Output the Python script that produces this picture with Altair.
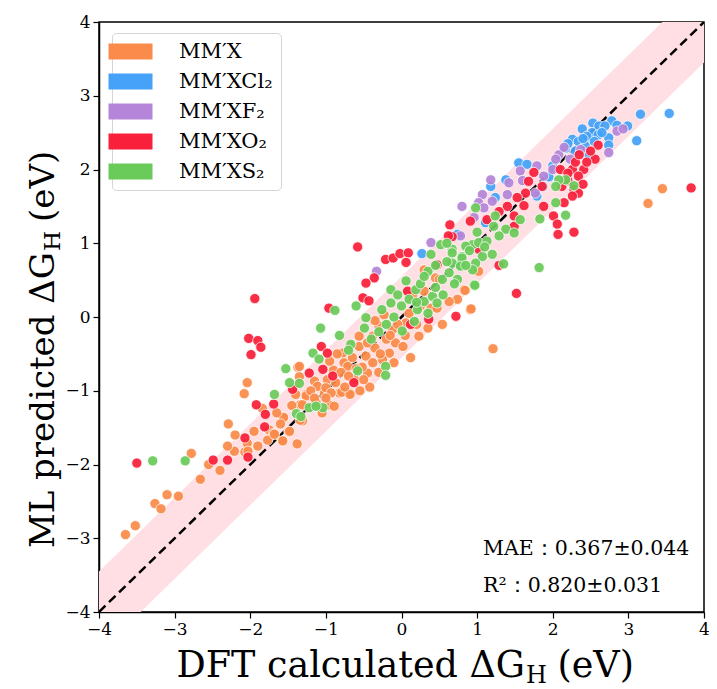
import altair as alt
import pandas as pd

categories = ["MM\u2032X", "MM\u2032XCl\u2082", "MM\u2032XF\u2082", "MM\u2032XO\u2082", "MM\u2032XS\u2082"]
colors = ["#FA8B4A", "#45A2F8", "#B585D9", "#F8203A", "#6ACB5A"]

# MM'X (orange): (DFT, ML)
mmx = [(-3.65,-2.95),(-3.52,-2.83),(-3.26,-2.53),(-3.18,-2.60),(-3.10,-2.41),(-2.95,-2.43),(-2.66,-2.20),
       (-2.78,-1.85),(-2.55,-2.00),(-2.40,-2.08),(-2.21,-1.82),(-2.07,-1.83),(-2.04,-1.71),(-2.29,-1.45),
       (-2.08,-1.04),(-2.04,-0.89),(-1.84,-1.24),(-1.75,-1.53),(-1.69,-1.58),(-1.77,-1.67),(-1.57,-1.68),
       (-1.38,-1.72),(-1.56,-1.37),(-1.49,-1.55),(-1.34,-1.19),(-1.31,-1.39),(-1.26,-1.05),(-1.37,-0.68),
       (-1.35,-0.81),(-1.35,-0.67),(-1.15,-0.87),(-0.98,-0.85),(-0.78,-0.49),(-0.76,-0.62),(-0.56,-0.40),
       (-0.56,-0.26),(-0.47,-0.53),(-0.38,-0.62),(-0.16,-0.49),(-0.08,-0.35),(-0.12,-0.17),(-0.23,0.03),
       (-0.38,-0.26),(-0.30,-0.12),(0.06,-0.08),(0.23,-0.26),(0.39,0.12),(0.30,0.35),(0.45,0.53),(0.30,0.64),
       (1.02,0.62),(0.83,0.37),(0.74,0.24),(0.63,0.21),(0.91,0.10),(0.54,-0.10),(1.21,-0.43),(0.12,-0.55),
       (-0.45,-0.76),(-0.71,-0.67),(-0.87,-0.89),(-0.82,-1.03),(-0.69,-1.03),(-1.13,-1.16),(-1.26,-1.07),
       (-0.96,-1.19),(-1.31,-1.41),(-1.02,-1.03),(-1.11,-0.94),(-0.25,-0.58),(3.45,1.74),(3.26,1.54),
       (0.84,0.36),(0.92,0.11),(0.47,0.12),(0.50,0.51),(-1.00,-0.96),(-0.93,-1.03),(-0.79,-1.02),(-0.68,-1.05),
       (-0.89,-1.21),(-1.05,-1.30),(-1.31,-1.19),(-1.34,-1.40),(-1.56,-1.36),(-1.48,-1.55),(-1.68,-1.59),
       (-1.57,-1.68),(-2.03,-1.82),(-0.90,-0.72),(-0.65,-0.55),(-0.52,-0.68),(-0.35,-0.42),(-0.20,-0.30),
       (-0.05,-0.10),(0.10,0.05),(0.20,-0.10),(-0.62,-0.85),(-0.42,-0.95),(-0.80,-0.75),(-1.20,-1.00),
       (-1.45,-1.20),(-1.60,-1.45),(-1.90,-1.75),(-0.10,-0.62),(0.02,-0.40),(0.35,-0.15),(0.15,0.30),
       (-0.30,-0.75),(-0.55,-1.00),(-0.75,-0.95),(-1.15,-1.10),(-0.95,-0.60),(-0.85,-0.50),(-0.60,-0.70),
       (-0.45,-0.35),(-0.28,-0.50),(-0.15,-0.25),(0.05,-0.25),(-1.40,-1.05),(-1.65,-1.30),(-1.00,-1.10),
       (-0.70,-0.80),(-0.50,-0.85),(-0.35,-0.05),(0.25,0.15),(-2.30,-1.75),(-2.20,-1.60),(-1.95,-1.55)]

# MM'XCl2 (blue)
mmxcl2 = [(3.16,2.75),(3.54,2.76),(3.11,2.39),(2.99,2.59),(2.78,2.66),(2.53,2.63),(2.61,2.59),(2.69,2.59),
          (2.39,2.55),(2.52,2.50),(2.74,2.43),(2.74,2.33),(2.26,2.41),(2.34,2.38),(2.43,2.32),(2.17,2.29),
          (1.87,1.77),(1.55,2.09),(1.66,2.07),(1.79,1.64),(1.38,1.86),(1.18,1.77),(1.24,1.62),(1.11,1.28),
          (0.74,1.12),(0.27,0.86),(2.45,2.45),(2.60,2.47),(2.30,2.25),(2.55,2.38),(2.48,2.20),(2.00,2.05),
          (1.95,1.90),(2.65,2.50),(2.40,2.42),(2.20,2.35),(2.85,2.60)]

# MM'XF2 (purple)
mmxf2 = [(2.85,2.52),(2.74,2.23),(2.37,2.27),(2.08,2.20),(2.04,2.14),(2.23,2.14),(1.79,2.05),(1.57,1.98),
         (1.88,1.91),(1.77,1.68),(1.40,1.66),(1.18,1.86),(1.42,1.82),(1.07,1.66),(1.20,1.57),(1.02,1.55),
         (0.80,1.50),(1.09,1.48),(0.96,1.35),(0.78,1.10),(0.39,1.01),(-0.33,0.62),(2.93,2.55),(2.15,2.30),
         (2.00,2.00),(1.60,1.85)]

# MM'XO2 (red)
mmxo2 = [(-2.49,-1.94),(-2.30,-1.94),(-3.50,-1.98),(-2.03,-1.90),(-2.07,-1.64),(-1.92,-1.19),(-1.80,-1.32),
         (-1.69,-1.18),(-1.81,-1.49),(-1.44,-0.98),(-1.94,0.25),(-2.02,-0.29),(-1.90,-0.32),(-1.86,-0.41),
         (-1.99,-0.51),(-0.58,0.95),(-0.21,0.78),(-0.11,0.80),(-0.02,0.86),(0.09,0.87),(0.06,0.74),
         (-0.36,0.53),(-0.47,0.46),(-0.51,0.26),(-0.43,0.22),(-0.96,0.12),(-1.06,-0.40),(-0.98,-0.49),
         (-1.04,-0.71),(-0.91,-0.80),(-0.63,-0.89),(-1.22,-0.76),(0.08,0.35),(0.12,-0.10),(0.36,-0.03),
         (0.47,0.71),(0.67,1.09),(1.02,0.92),(0.72,0.01),(1.52,0.32),(3.83,1.75),(2.60,2.33),(2.56,2.14),
         (2.41,2.00),(2.26,2.00),(2.10,2.00),(2.34,1.91),(2.28,1.73),(2.34,1.68),(2.26,1.64),(2.12,1.77),
         (1.88,1.50),(2.01,1.37),(2.06,1.26),(2.07,1.12),(2.28,1.15),(1.29,0.70),(1.86,1.77),(1.75,1.96),
         (1.68,1.84),(1.64,1.68),(1.53,1.62),(1.40,1.50),(1.62,1.51),(1.49,1.37),(1.29,1.43),(1.49,1.23),
         (1.13,1.32),(0.91,1.30),(0.64,1.25),(0.62,1.10),(2.15,1.55),(2.20,1.85),(2.40,1.80),(2.45,2.10),
         (2.30,2.10),(2.20,1.95),(2.50,2.25),(2.35,2.20)]

# MM'XS2 (green)
mmxs2 = [(-3.29,-1.95),(-2.86,-1.95),(-1.68,-1.05),(-1.48,-0.89),(-1.39,-1.31),(-1.22,-1.23),(-1.53,-0.70),
         (-1.35,-0.90),(-0.88,0.09),(-0.60,0.15),(-1.07,-0.15),(-0.82,-0.25),(-1.17,-0.49),(-1.09,-0.57),
         (-0.67,-0.37),(-0.21,-0.67),(-0.21,-0.79),(0.01,-0.19),(-0.26,0.10),(-0.47,-0.01),(-0.49,-0.15),
         (-0.14,0.19),(-0.14,0.37),(0.06,0.49),(0.10,0.24),(0.19,0.37),(0.21,0.10),(0.17,-0.06),(0.30,0.21),
         (0.41,0.28),(0.54,0.51),(0.63,0.60),(0.52,0.98),(0.39,0.85),(0.67,0.92),(0.76,0.71),(0.80,0.82),
         (0.94,0.98),(1.07,0.82),(0.98,0.73),(0.74,0.51),(0.94,0.64),(0.96,0.44),(0.47,0.19),(-0.58,-0.73),
         (-1.04,-1.23),(-1.33,-1.35),(-1.13,-1.21),(2.28,1.78),(2.17,1.86),(2.08,1.86),(2.04,1.77),(2.04,1.55),
         (2.17,1.38),(1.83,1.33),(1.82,0.67),(1.35,0.72),(0.98,1.48),(1.24,1.37),(1.38,1.19),(1.49,1.14),
         (1.29,1.10),(1.57,1.32),(1.22,1.23),(1.02,1.01),(1.13,1.03),(1.20,0.85),(0.85,0.96),(0.67,0.87),
         (0.80,0.80),(0.67,0.73),(0.78,0.69),(0.97,0.43),(-0.30,-0.20),(-0.10,0.00),(0.25,0.45),(0.45,0.40),
         (0.60,0.75),(0.85,0.70),(-0.70,-0.45),(-0.40,-0.30),(0.00,0.15),(0.35,0.62),(0.30,0.55),(0.55,0.30),
         (0.70,0.45),(0.90,0.90),(1.10,0.95),(0.45,0.70),(0.20,0.20),(-0.05,0.30),(0.60,1.00),(1.00,1.15),
         (-0.20,-0.10),(0.35,0.05)]

axis_ticks = [-4, -3, -2, -1, 0, 1, 2, 3, 4]
diag_x = [-4.0, 4.0]
band_half = 0.55
mae_text = "MAE\uff1a0.367\u00b10.044"
r2_text = "R\u00b2\uff1a0.820\u00b10.031"

rows = []
for cat, pts in zip(categories, [mmx, mmxcl2, mmxf2, mmxo2, mmxs2]):
    for dft, ml in pts:
        rows.append({"cat": cat, "dft": dft, "ml": ml})
df = pd.DataFrame(rows)

band_df = pd.DataFrame({"x": diag_x, "lo": [v - band_half for v in diag_x], "hi": [v + band_half for v in diag_x]})
diag_df = pd.DataFrame({"x": diag_x, "y": diag_x})

FONT = "DejaVu Serif"
W, H = 605, 590

xscale = alt.Scale(domain=[-4, 4], nice=False, zero=False)
yscale = alt.Scale(domain=[-4, 4], nice=False, zero=False)
common_axis = dict(values=axis_ticks, format="d", title=None, grid=False, labelFont=FONT, labelFontSize=17,
                   labelColor="black", tickColor="black", domainColor="black", tickSize=6,
                   tickWidth=1.2, domainWidth=1.5, labelFlush=False, labelPadding=3)
xaxis = alt.Axis(**common_axis)
yaxis = alt.Axis(**common_axis)

band = alt.Chart(band_df).mark_area(color="#FFDEE4", clip=True).encode(
    x=alt.X("x:Q", scale=xscale, axis=xaxis),
    y=alt.Y("lo:Q", scale=yscale, axis=yaxis),
    y2="hi:Q",
)

diag = alt.Chart(diag_df).mark_line(color="black", strokeDash=[9, 5], strokeWidth=2.5, clip=True).encode(
    x=alt.X("x:Q", scale=xscale),
    y=alt.Y("y:Q", scale=yscale),
)

points = alt.Chart(df).mark_circle(size=105, opacity=0.93, stroke="white", strokeWidth=0.8).encode(
    x=alt.X("dft:Q", scale=xscale),
    y=alt.Y("ml:Q", scale=yscale),
    color=alt.Color("cat:N", scale=alt.Scale(domain=categories, range=colors),
                    legend=alt.Legend(title=None, orient="none", legendX=13, legendY=11,
                                      symbolType="M-2.75,-1H2.75V1H-2.75Z", symbolSize=256,
                                      symbolStrokeWidth=0, symbolOpacity=1,
                                      labelFont=FONT, labelFontSize=21, labelColor="black",
                                      labelOffset=38, rowPadding=8, padding=8,
                                      fillColor="white", strokeColor="#d5d5d5", cornerRadius=4)),
)

def txt(s, x, y, size, align="left", angle=0, baseline="alphabetic"):
    return alt.Chart(pd.DataFrame({"t": [s]})).mark_text(
        font=FONT, fontSize=size, align=align, baseline=baseline, angle=angle, color="black"
    ).encode(x=alt.value(x), y=alt.value(y), text="t:N")

# x-axis title pieces
xp = 426
xt_y = 655
x_title = [
    txt("DFT calculated \u0394G", xp, xt_y, 36.5, align="right"),
    txt("H", xp + 1, xt_y + 6, 24),
    txt("(eV)", xp + 32.5, xt_y, 36.5),
]
# y-axis title pieces (rotated)
yq = 230
yt_x = -45
y_title = [
    txt("ML predicted \u0394G", yt_x, yq, 34, align="right", angle=270),
    txt("H", yt_x + 6, yq - 1, 23, angle=270),
    txt("(eV)", yt_x, yq - 30, 34, angle=270),
]

ann = [txt(mae_text, 384, 533, 20.5), txt(r2_text, 384, 570, 20.5)]

chart = alt.layer(band, diag, points, *ann, *x_title, *y_title).properties(
    width=W, height=H,
    autosize=alt.AutoSizeParams(type="none"),
    padding={"left": 91, "top": 14, "right": 5, "bottom": 78},
).configure_view(stroke="black", strokeWidth=1.5)

chart.save("out.html", embed_options={"renderer": "svg", "actions": False})
